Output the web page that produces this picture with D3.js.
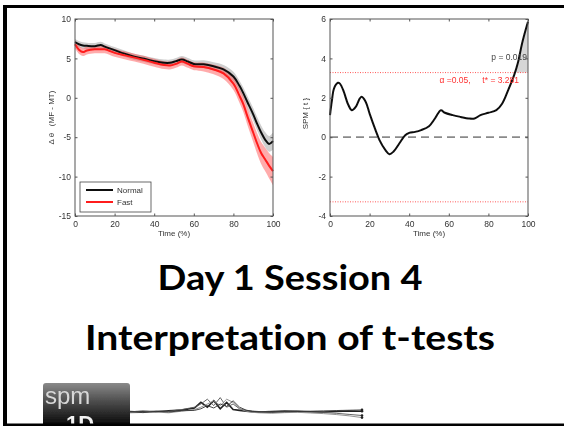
<!DOCTYPE html>
<html>
<head>
<meta charset="utf-8">
<script src="https://cdn.jsdelivr.net/npm/d3@7/dist/d3.min.js"></script>
<style>
  html, body { margin: 0; padding: 0; background: #fff; }
  svg { display: block; }
  .title { font-variant-ligatures: none; font-feature-settings: "liga" 0, "clig" 0; }
</style>
</head>
<body>
<svg id="slide" width="564" height="426"></svg>
<script>
// ---- Mean trajectories (left panel) ----
const timePct   = [0,2,4,6,10,13,15,20,25,30,35,40,45,48,51,54,57,60,65,70,75,80,83,85,87,90,92,94,96,98,100];
const normalMean = [7.05,6.8,6.65,6.6,6.55,6.7,6.5,6.05,5.6,5.2,4.95,4.65,4.45,4.45,4.65,4.85,4.6,4.3,4.25,4.0,3.6,2.7,1.55,0.6,-0.5,-2.1,-3.3,-4.4,-5.3,-5.85,-5.5];
const normalSD   = [0.4,0.4,0.4,0.4,0.4,0.4,0.4,0.4,0.4,0.4,0.4,0.4,0.4,0.4,0.4,0.45,0.45,0.45,0.5,0.5,0.55,0.6,0.65,0.7,0.75,0.8,0.85,0.9,0.95,1.0,1.1];
const fastMean   = [6.8,6.1,5.8,6.0,6.15,6.15,6.15,5.7,5.4,5.1,4.8,4.45,4.15,4.1,4.3,4.6,4.3,4.0,3.9,3.6,3.1,1.8,0.3,-0.8,-2.3,-4.4,-5.8,-7.0,-7.8,-8.6,-9.3];
const fastSD     = [0.5,0.5,0.5,0.5,0.5,0.5,0.5,0.5,0.5,0.5,0.5,0.5,0.5,0.5,0.5,0.5,0.5,0.5,0.55,0.6,0.7,0.8,0.9,1.0,1.1,1.2,1.3,1.4,1.5,1.6,1.8];
const seriesNames = ["Normal", "Fast"];
const leftYTicks = [10,5,0,-5,-10,-15];

// ---- SPM{t} trajectory (right panel) ----
const spmTime = [0,1,2,4,5,7,9,11,13,15,16,18,20,23,25,28,30,32,35,38,40,43,46,50,53,56,58,62,66,70,73,76,80,84,87,90,93,95,97,99,100];
const spmT    = [1.12,1.88,2.47,2.76,2.72,2.3,1.7,1.37,1.54,1.96,2.05,1.8,1.2,0.36,-0.15,-0.66,-0.86,-0.74,-0.32,0.1,0.22,0.27,0.36,0.56,0.95,1.37,1.24,1.12,1.03,0.95,0.95,1.12,1.24,1.37,1.71,2.39,3.15,3.82,4.76,5.52,5.86];
const tCritical = 3.281;
const alphaLevel = 0.05;
const pCluster = 0.019;
const rightYTicks = [6,4,2,0,-2,-4];
const xTicks = [0,20,40,60,80,100];

// ---- Title lines ----
const titleLines = ["Day 1 Session 4", "Interpretation of t-tests"];

// ---- Logo squiggle strands ----
const logoX = [0,10,20,30,40,50,55,60,65,70,75,80,85,90,95,100,110,120,130,140,150,160,170,180];
const logoStrands = [
  [0,0.5,0.2,0.8,1.2,2.5,6,3,7,2,6,1.5,1,0.5,0.2,0,0.3,0.6,0.4,0.2,0,0.3,0.6,0.5],
  [0.5,0,0.6,0.4,1.5,3,5,8,4,9,3,5,2,1,0.6,0.3,0,0.2,0.5,0.1,-0.3,-0.8,-1.5,-2.2],
  [-0.5,-0.3,0,-0.5,0.5,1.5,3,5,7,4,8,6,2,0.5,-0.2,-0.5,-0.8,-0.4,-0.2,-0.6,-1,-1.6,-2.4,-3.5],
  [0.2,-0.4,0.4,0,0.8,1,2,4,2.5,5,3.5,7,3,1.2,0.4,0.1,-0.2,0.1,0.3,0.5,0.7,0.9,1.1,1.3]
];

const svg = d3.select("#slide");

// Soft focus filter for the plot images
const defs = svg.append("defs");
defs.append("filter").attr("id", "soft")
  .attr("x", "-5%").attr("y", "-5%").attr("width", "110%").attr("height", "110%")
  .append("feGaussianBlur").attr("stdDeviation", 0.45);
const grad = defs.append("linearGradient").attr("id", "logoGrad")
  .attr("x1", 0).attr("y1", 0).attr("x2", 0).attr("y2", 1);
grad.append("stop").attr("offset", "0%").attr("stop-color", "#8a8a8a");
grad.append("stop").attr("offset", "45%").attr("stop-color", "#4a4a4a");
grad.append("stop").attr("offset", "100%").attr("stop-color", "#050505");

const tickFont = "Liberation Sans, Arial, sans-serif";
const fmt = d => String(d);

function boxAxes(g, x, y, yTicks) {
  // MATLAB-style boxed axes with inward ticks
  const [x0, x1] = x.range();
  const [y0, y1] = y.range();
  g.append("rect").attr("x", x0).attr("y", y1).attr("width", x1 - x0).attr("height", y0 - y1)
    .attr("fill", "none").attr("stroke", "#555").attr("stroke-width", 1);
  const style = sel => {
    sel.select(".domain").remove();
    sel.selectAll("line").attr("stroke", "#555");
    sel.selectAll("text").attr("fill", "#333").attr("font-family", tickFont).attr("font-size", 8.5);
  };
  g.append("g").attr("transform", `translate(0,${y0})`)
    .call(d3.axisBottom(x).tickValues(xTicks).tickFormat(fmt).tickSizeInner(-2.5).tickPadding(5)).call(style);
  g.append("g").attr("transform", `translate(0,${y1})`)
    .call(d3.axisTop(x).tickValues(xTicks).tickFormat("").tickSizeInner(-2.5)).call(style);
  g.append("g").attr("transform", `translate(${x0},0)`)
    .call(d3.axisLeft(y).tickValues(yTicks).tickFormat(fmt).tickSizeInner(-2.5).tickPadding(4)).call(style);
  g.append("g").attr("transform", `translate(${x1},0)`)
    .call(d3.axisRight(y).tickValues(yTicks).tickFormat("").tickSizeInner(-2.5)).call(style);
}

// ================= Left panel: group means ± SD =================
const gL = svg.append("g").attr("filter", "url(#soft)");
const xL = d3.scaleLinear().domain([0, 100]).range([75, 273]);
const yL = d3.scaleLinear().domain([-15, 10]).range([216, 19]);
const curve = d3.curveCatmullRom.alpha(0.5);

const bandArea = (mean, sd) => d3.area().curve(curve)
  .x((d, i) => xL(timePct[i]))
  .y0((d, i) => yL(mean[i] - sd[i]))
  .y1((d, i) => yL(mean[i] + sd[i]));
const meanLine = d3.line().curve(curve).x((d, i) => xL(timePct[i])).y(d => yL(d));

gL.append("path").datum(normalMean).attr("d", bandArea(normalMean, normalSD))
  .attr("fill", "#cfcfcf");
gL.append("path").datum(fastMean).attr("d", bandArea(fastMean, fastSD))
  .attr("fill", "rgba(255,70,70,0.45)");
gL.append("path").datum(normalMean).attr("d", meanLine)
  .attr("fill", "none").attr("stroke", "#111").attr("stroke-width", 2);
gL.append("path").datum(fastMean).attr("d", meanLine)
  .attr("fill", "none").attr("stroke", "#ff1a1a").attr("stroke-width", 2);

boxAxes(gL, xL, yL, leftYTicks);

gL.append("text").attr("x", xL(50)).attr("y", 236).attr("text-anchor", "middle")
  .attr("font-family", tickFont).attr("font-size", 8).attr("fill", "#333").text("Time (%)");
gL.append("text").attr("transform", `translate(54,${yL(-2.5)}) rotate(-90)`).attr("text-anchor", "middle")
  .attr("font-family", tickFont).attr("font-size", 8).attr("fill", "#333")
  .attr("xml:space", "preserve").text("Δ θ   (MF - MT)");

// Legend
const leg = gL.append("g");
leg.append("rect").attr("x", 80).attr("y", 182).attr("width", 71).attr("height", 30)
  .attr("fill", "#fff").attr("stroke", "#444").attr("stroke-width", 0.8);
const legColors = ["#111", "#ff1a1a"];
seriesNames.forEach((name, i) => {
  const yy = 190 + i * 12;
  leg.append("line").attr("x1", 86).attr("x2", 113).attr("y1", yy).attr("y2", yy)
    .attr("stroke", legColors[i]).attr("stroke-width", 2);
  leg.append("text").attr("x", 117).attr("y", yy + 3).attr("font-family", tickFont)
    .attr("font-size", 8).attr("fill", "#333").text(name);
});

// ================= Right panel: SPM{t} =================
const gR = svg.append("g").attr("filter", "url(#soft)");
const xR = d3.scaleLinear().domain([0, 100]).range([330, 528]);
const yR = d3.scaleLinear().domain([-4, 6]).range([216, 19]);

// supra-threshold cluster
const cross = (() => {
  for (let i = 1; i < spmT.length; i++) {
    if (spmT[i - 1] < tCritical && spmT[i] >= tCritical) {
      const f = (tCritical - spmT[i - 1]) / (spmT[i] - spmT[i - 1]);
      return spmTime[i - 1] + f * (spmTime[i] - spmTime[i - 1]);
    }
  }
  return null;
})();
const clusterPts = [[cross, tCritical]].concat(
  spmTime.map((t, i) => [t, spmT[i]]).filter(p => p[0] > cross));
gR.append("path").datum(clusterPts)
  .attr("d", d3.area().curve(curve).x(p => xR(p[0])).y0(yR(tCritical)).y1(p => yR(p[1])))
  .attr("fill", "#d6d6d6");

// zero line and critical thresholds
gR.append("line").attr("x1", xR(0)).attr("x2", xR(100)).attr("y1", yR(0)).attr("y2", yR(0))
  .attr("stroke", "#8a8a8a").attr("stroke-width", 1.8).attr("stroke-dasharray", "8,5");
[tCritical, -tCritical].forEach(v => {
  gR.append("line").attr("x1", xR(0)).attr("x2", xR(100)).attr("y1", yR(v)).attr("y2", yR(v))
    .attr("stroke", "#ff3030").attr("stroke-width", 0.8).attr("stroke-dasharray", "1,1.5");
});

gR.append("path").datum(spmT)
  .attr("d", d3.line().curve(curve).x((d, i) => xR(spmTime[i])).y(d => yR(d)))
  .attr("fill", "none").attr("stroke", "#111").attr("stroke-width", 2);

boxAxes(gR, xR, yR, rightYTicks);

gR.append("text").attr("x", xR(50)).attr("y", 236).attr("text-anchor", "middle")
  .attr("font-family", tickFont).attr("font-size", 8).attr("fill", "#333").text("Time (%)");
gR.append("text").attr("transform", `translate(308,${yR(1.2)}) rotate(-90)`).attr("text-anchor", "middle")
  .attr("font-family", tickFont).attr("font-size", 8).attr("fill", "#333").text("SPM { t }");
gR.append("text").attr("x", 527).attr("y", 60).attr("text-anchor", "end")
  .attr("font-family", tickFont).attr("font-size", 8.5).attr("fill", "#444")
  .text("p = " + pCluster.toFixed(3));
gR.append("text").attr("x", 519).attr("y", 83).attr("text-anchor", "end")
  .attr("font-family", tickFont).attr("font-size", 8.5).attr("fill", "#ff3030")
  .attr("xml:space", "preserve")
  .text("α =" + alphaLevel.toFixed(2) + ",     t* = " + tCritical.toFixed(3));

// ================= Title =================
const titleGeom = [{ y: 290, w: 265 }, { y: 350, w: 410 }];
titleLines.forEach((line, i) => {
  svg.append("text").attr("class", "title").attr("x", 290).attr("y", titleGeom[i].y).attr("text-anchor", "middle")
    .attr("font-family", "Lato, 'Open Sans', sans-serif").attr("font-weight", 700)
    .attr("font-size", 35).attr("fill", "#000")
    .attr("textLength", titleGeom[i].w).attr("lengthAdjust", "spacingAndGlyphs")
    .text(line);
});

// ================= Logo =================
const logo = svg.append("g").attr("filter", "url(#soft)");
logo.append("path")
  .attr("d", "M43,426 L43,386 Q43,383 46,383 L127,383 Q130,383 130,386 L130,426 Z")
  .attr("fill", "url(#logoGrad)");
logo.append("text").attr("x", 45).attr("y", 404).attr("font-family", "Liberation Sans, Arial, sans-serif")
  .attr("font-size", 24).attr("fill", "#d8d8d8").text("spm");
logo.append("text").attr("x", 66).attr("y", 431).attr("font-family", "Liberation Sans, Arial, sans-serif")
  .attr("font-weight", 700).attr("font-size", 22).attr("fill", "#f2f2f2").text("1D");

const lx = d3.scaleLinear().domain([0, 180]).range([130, 362]);
const ly = d3.scaleLinear().domain([0, 10]).range([412, 396]);
const strandColors = ["#222", "#555", "#888", "#333"];
logoStrands.forEach((s, k) => {
  logo.append("path").datum(s)
    .attr("d", d3.line().curve(d3.curveLinear).x((d, i) => lx(logoX[i])).y(d => ly(d)))
    .attr("fill", "none").attr("stroke", strandColors[k]).attr("stroke-width", k === 0 ? 1.6 : 0.9);
  const last = s[s.length - 1];
  logo.append("circle").attr("cx", lx(logoX[logoX.length - 1])).attr("cy", ly(last))
    .attr("r", 1.3).attr("fill", "#222");
});

// ================= Slide frame =================
svg.append("rect").attr("x", 3).attr("y", 5).attr("width", 4).attr("height", 421).attr("fill", "#000");
svg.append("rect").attr("x", 3).attr("y", 5).attr("width", 561).attr("height", 3).attr("fill", "#000");
svg.append("rect").attr("x", 3).attr("y", 423.5).attr("width", 561).attr("height", 2.5).attr("fill", "#000");
</script>
</body>
</html>
